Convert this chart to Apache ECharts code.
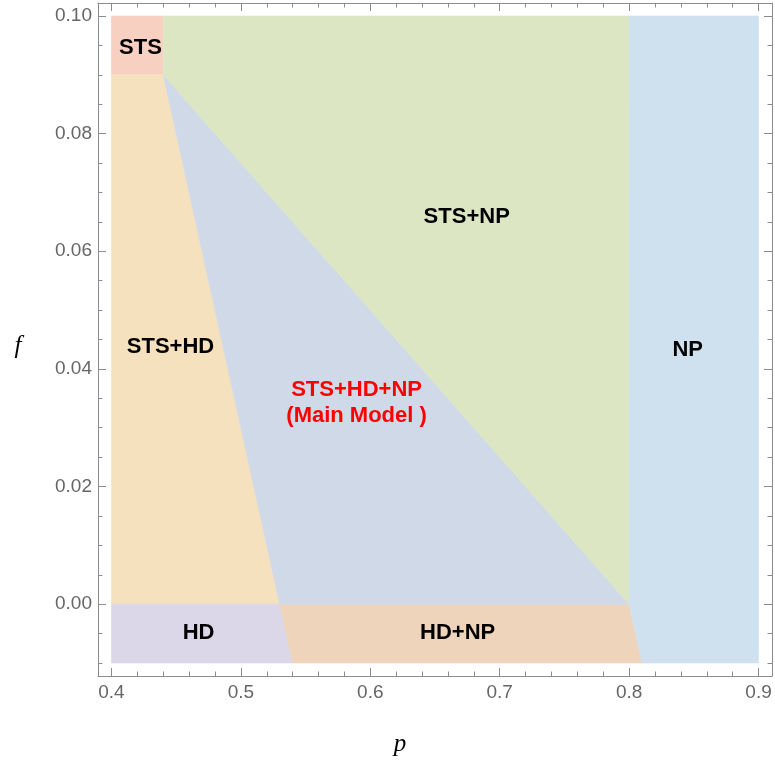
<!DOCTYPE html>
<html>
<head>
<meta charset="utf-8">
<script src="https://cdn.jsdelivr.net/npm/echarts@6/dist/echarts.min.js"></script>
<style>
  html, body { margin: 0; padding: 0; background: #fff; }
  #chart { width: 775px; height: 760px; }
</style>
</head>
<body>
<div id="chart"></div>
<script>
// Phase regions in the (p, f) plane, each a polygon of [p, f] vertices
const regionSTS      = [[0.40, 0.09], [0.44, 0.09], [0.44, 0.10], [0.40, 0.10]];
const regionSTS_HD   = [[0.40, 0.00], [0.53, 0.00], [0.44, 0.09], [0.40, 0.09]];
const regionHD       = [[0.40, -0.01], [0.54, -0.01], [0.53, 0.00], [0.40, 0.00]];
const regionHD_NP    = [[0.54, -0.01], [0.81, -0.01], [0.80, 0.00], [0.53, 0.00]];
const regionMain     = [[0.53, 0.00], [0.80, 0.00], [0.44, 0.09]];
const regionSTS_NP   = [[0.44, 0.09], [0.80, 0.00], [0.80, 0.10], [0.44, 0.10]];
const regionNP       = [[0.80, 0.00], [0.81, -0.01], [0.90, -0.01], [0.90, 0.10], [0.80, 0.10]];

const regions = [regionSTS, regionSTS_HD, regionHD, regionHD_NP, regionMain, regionSTS_NP, regionNP];
const regionColors = ['#f8d0c2', '#f5e1be', '#dbd7e8', '#eed4ba', '#cfd9e8', '#dde6c2', '#cfe1ee'];

// Region captions and where they sit, [p, f]
const captionTexts = ['STS', 'STS+HD', 'HD', 'HD+NP', 'STS+HD+NP\n(Main Model )', 'STS+NP', 'NP'];
const captionPoints = [[0.4224, 0.0946], [0.4456, 0.0437], [0.4673, -0.0048], [0.6675, -0.0048],
                       [0.5894, 0.0342], [0.6745, 0.0658], [0.8453, 0.0432]];
const captionColors = ['#000000', '#000000', '#000000', '#000000', '#ff0000', '#000000', '#000000'];

// Tick positions
const pMajor = [0.4, 0.5, 0.6, 0.7, 0.8, 0.9];
const pMinor = [0.42, 0.44, 0.46, 0.48, 0.52, 0.54, 0.56, 0.58, 0.62, 0.64, 0.66, 0.68,
                0.72, 0.74, 0.76, 0.78, 0.82, 0.84, 0.86, 0.88];
const fMajor = [0.00, 0.02, 0.04, 0.06, 0.08, 0.10];
const fMinor = [-0.01, -0.005, 0.005, 0.01, 0.015, 0.025, 0.03, 0.035, 0.045, 0.05, 0.055,
                0.065, 0.07, 0.075, 0.085, 0.09, 0.095];

// Plot range with a small padding around the data
const pMin = 0.3896, pMax = 0.9104;
const fMin = -0.0122, fMax = 0.1022;

const frameColor = '#8c8c8c';
const labelColor = '#666666';

function xAxisDef(position, ticks, len, showLabels, showLine) {
  return {
    type: 'value', position: position, min: pMin, max: pMax,
    splitLine: { show: false },
    axisLine: { show: showLine, onZero: false, lineStyle: { color: frameColor, width: 1 } },
    axisTick: { show: true, inside: true, length: len, customValues: ticks,
                lineStyle: { color: frameColor, width: 1 } },
    axisLabel: showLabels
      ? { show: true, customValues: ticks, formatter: v => v.toFixed(1), color: labelColor,
          fontSize: 19, fontFamily: 'Liberation Sans', margin: 7 }
      : { show: false }
  };
}

function yAxisDef(position, ticks, len, showLabels, showLine) {
  return {
    type: 'value', position: position, min: fMin, max: fMax,
    splitLine: { show: false },
    axisLine: { show: showLine, onZero: false, lineStyle: { color: frameColor, width: 1 } },
    axisTick: { show: true, inside: true, length: len, customValues: ticks,
                lineStyle: { color: frameColor, width: 1 } },
    axisLabel: showLabels
      ? { show: true, customValues: ticks, formatter: v => v.toFixed(2), color: labelColor,
          fontSize: 19, fontFamily: 'Liberation Sans', margin: 6 }
      : { show: false }
  };
}

const titleStyle = { fontFamily: 'Liberation Serif', fontStyle: 'italic', fontSize: 25, fill: '#000' };

const chart = echarts.init(document.getElementById('chart'), null, { renderer: 'canvas' });

chart.setOption({
  animation: false,
  backgroundColor: '#ffffff',
  grid: { left: 98, right: 3, top: 3, bottom: 84, containLabel: false, outerBoundsMode: 'none' },
  xAxis: [
    xAxisDef('bottom', pMajor, 8, true, true),
    xAxisDef('bottom', pMinor, 4.5, false, false),
    xAxisDef('top', pMajor, 8, false, true),
    xAxisDef('top', pMinor, 4.5, false, false)
  ],
  yAxis: [
    yAxisDef('left', fMajor, 8, true, true),
    yAxisDef('left', fMinor, 4.5, false, false),
    yAxisDef('right', fMajor, 8, false, true),
    yAxisDef('right', fMinor, 4.5, false, false)
  ],
  graphic: [
    { type: 'text', x: 400, y: 744, style: Object.assign({ text: 'p', align: 'center', verticalAlign: 'middle' }, titleStyle) },
    { type: 'text', x: 18, y: 346, style: Object.assign({ text: 'f', align: 'center', verticalAlign: 'middle' }, titleStyle) }
  ],
  series: [
    {
      // filled phase regions
      type: 'custom',
      xAxisIndex: 0, yAxisIndex: 0,
      data: regions.map((r, i) => [r[0][0], r[0][1], i]),
      renderItem: function (params, api) {
        const idx = params.dataIndex;
        const pts = regions[idx].map(v => api.coord(v));
        return {
          type: 'polygon',
          shape: { points: pts },
          style: { fill: regionColors[idx], stroke: regionColors[idx], lineWidth: 0.6 }
        };
      },
      silent: true,
      z: 1
    },
    {
      // region captions
      type: 'custom',
      xAxisIndex: 0, yAxisIndex: 0,
      data: captionPoints.map((pt, i) => [pt[0], pt[1], i]),
      renderItem: function (params, api) {
        const idx = params.dataIndex;
        const c = api.coord(captionPoints[idx]);
        return {
          type: 'text',
          x: c[0], y: c[1],
          style: {
            text: captionTexts[idx],
            fill: captionColors[idx],
            font: 'bold 22px "Liberation Sans", Arial, sans-serif',
            lineHeight: 26,
            align: 'center', verticalAlign: 'middle'
          }
        };
      },
      silent: true,
      z: 5
    }
  ]
});
</script>
</body>
</html>
